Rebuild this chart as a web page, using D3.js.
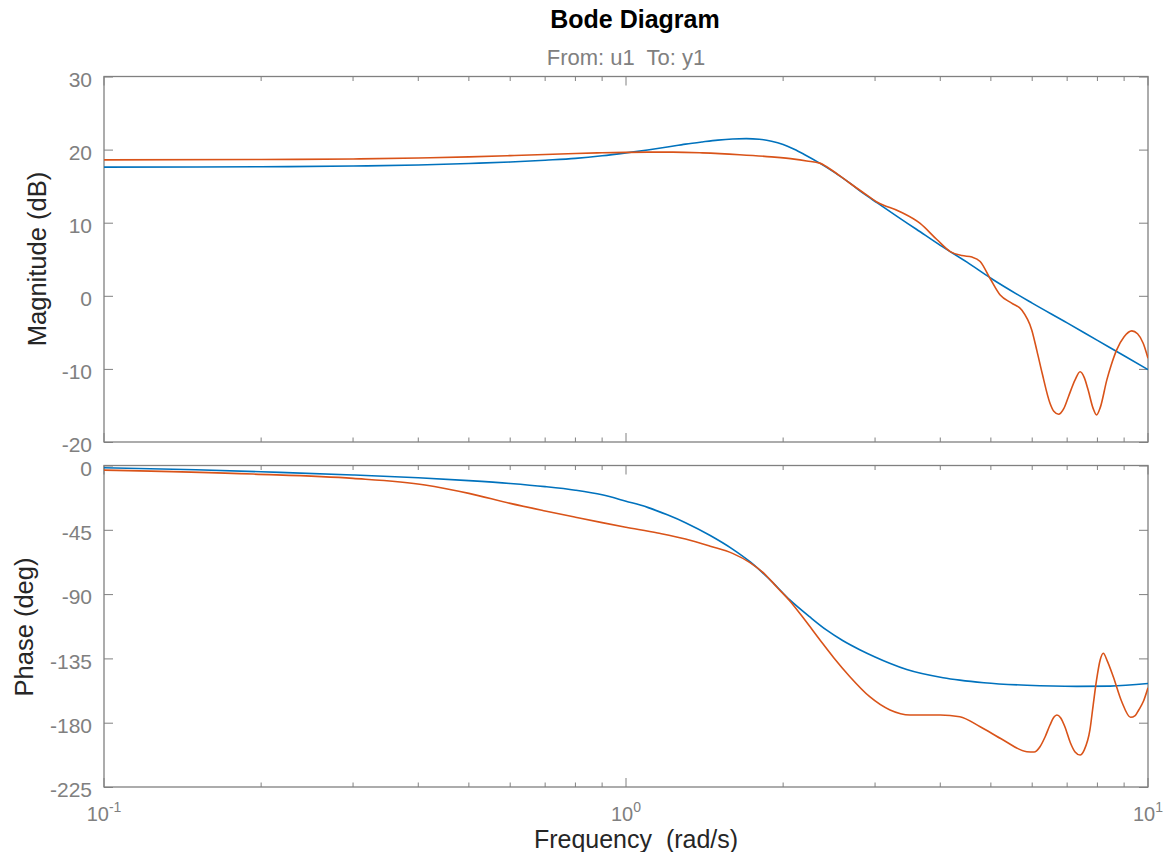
<!DOCTYPE html>
<html><head><meta charset="utf-8">
<script src="https://cdn.jsdelivr.net/npm/d3@7"></script>
<style>
body{margin:0;background:#fff;}
svg{display:block;font-family:"Liberation Sans",Arial,Helvetica,sans-serif;}
</style></head><body>
<svg id="chart" width="1168" height="852"></svg>
<script>
// ---- data ----
const blueMagFreq = [0.1,0.15,0.2,0.3,0.4,0.5,0.6,0.7,0.8,0.9,1.0,1.1,1.2,1.3,1.4,1.5,1.6,1.7,1.8,1.9,2.0,2.1,2.2,2.35,2.5,2.685,2.85,3.03,3.3,3.6,4.0,4.5,5.0,6.0,7.0,8.0,9.0,10];
const blueMag = [17.6,17.62,17.65,17.75,17.9,18.1,18.3,18.55,18.8,19.15,19.55,19.95,20.35,20.75,21.05,21.3,21.45,21.5,21.42,21.15,20.7,20.05,19.3,18.15,16.95,15.4,14.0,12.7,10.9,9.1,6.9,4.6,2.4,-1.0,-3.7,-6.1,-8.2,-10.1];

const orangeMagFreq = [0.1,0.2,0.3,0.4,0.5,0.6,0.7,0.8,0.9,1.0,1.1,1.23,1.4,1.65,1.9,2.1,2.22,2.35,2.5,2.685,2.85,3.03,3.35,3.66,3.94,4.18,4.4,4.6,4.77,4.98,5.21,5.48,5.73,5.99,6.13,6.27,6.49,6.6,6.74,6.9,7.04,7.25,7.41,7.55,7.68,7.85,7.97,8.1,8.34,8.5,8.71,9.0,9.31,9.55,9.79,10];
const orangeMag = [18.6,18.65,18.72,18.85,19.0,19.18,19.34,19.47,19.56,19.62,19.65,19.65,19.55,19.3,19.0,18.7,18.45,18.15,17.0,15.4,14.1,12.8,11.5,9.9,7.7,6.05,5.5,5.3,4.7,2.4,0.1,-1.0,-1.95,-4.7,-7.6,-10.6,-14.7,-15.8,-16.2,-15.4,-13.8,-11.5,-10.4,-11.2,-12.9,-15.4,-16.3,-15.3,-11.5,-9.5,-7.4,-5.6,-4.8,-5.2,-6.5,-8.55];

const bluePhaseFreq = [0.1,0.15,0.2,0.3,0.4,0.5,0.6,0.7,0.8,0.9,1.0,1.1,1.2,1.3,1.45,1.6,1.73,1.9,2.06,2.25,2.42,2.6,2.81,3.0,3.2,3.45,4.05,4.36,4.85,5.86,7.3,8.46,10];
const bluePhase = [-1.6,-3.0,-4.4,-6.6,-8.6,-10.6,-12.6,-14.8,-17.3,-20.5,-25.0,-29.3,-34.5,-40.0,-49.0,-58.5,-67.5,-81.0,-94.1,-106.0,-115.1,-122.5,-129.1,-134.0,-138.4,-142.8,-148.5,-150.2,-152.0,-153.8,-154.6,-154.4,-152.6];

const orangePhaseFreq = [0.1,0.193,0.3,0.412,0.5,0.6,0.7,0.8,0.9,1.0,1.15,1.3,1.45,1.6,1.728,1.85,1.944,2.062,2.2,2.353,2.5,2.685,2.93,3.205,3.5,4.0,4.36,4.77,5.28,5.86,6.05,6.21,6.35,6.49,6.6,6.69,6.8,6.93,7.1,7.25,7.41,7.55,7.74,7.85,7.97,8.1,8.21,8.35,8.58,8.9,9.26,9.45,9.6,9.8,10];
const orangePhase = [-3.2,-6.0,-9.0,-13.6,-19.5,-26.5,-31.8,-36.2,-40.0,-43.2,-47.3,-51.5,-56.5,-61.5,-68.0,-76.5,-85.0,-95.0,-108.0,-122.1,-134.5,-147.8,-161.8,-171.1,-174.6,-174.6,-175.8,-182.8,-192.1,-200.3,-200.5,-196.8,-190.0,-181.6,-176.2,-174.6,-176.5,-182.8,-194.0,-200.5,-202.6,-199.0,-185.1,-168.0,-150.1,-136.0,-131.4,-136.5,-147.8,-165.0,-176.2,-175.0,-171.1,-165.0,-155.5];

const magTicks = [-20,-10,0,10,20,30];
const phaseTicks = [-225,-180,-135,-90,-45,0];
const freqMajorTicks = [0.1,1,10];
const freqTickExponents = ["-1","0","1"];
const titleText = "Bode Diagram";
const subtitleText = "From: u1  To: y1";
const xLabelText = "Frequency  (rad/s)";
const magLabelText = "Magnitude (dB)";
const phaseLabelText = "Phase (deg)";

// ---- drawing ----
const BLUE = "#0072BD", ORANGE = "#D95319";
const AX = "#808080", TXT = "#262626";
const svg = d3.select("#chart");
svg.append("rect").attr("width",1168).attr("height",852).attr("fill","#fff");

const L = 104, R = 1148;
const x = d3.scaleLog().domain([0.1,10]).range([L,R]);
const yMag = d3.scaleLinear().domain([-20,30]).range([442,76.5]);
const yPh = d3.scaleLinear().domain([-225,0]).range([787,465.5]);

const minorTicks = [];
[0.1,1].forEach(d => { for (let k=2;k<=9;k++) minorTicks.push(+(d*k).toFixed(4)); });

const defs = svg.append("defs");
function panel(id, y, ticks){
  const [y0,y1] = [y.range()[1], y.range()[0]];
  defs.append("clipPath").attr("id",id).append("rect")
    .attr("x",L).attr("y",y0).attr("width",R-L).attr("height",y1-y0);
  const g = svg.append("g");
  const la = g.append("g").attr("transform",`translate(${L},0)`)
    .call(d3.axisLeft(y).tickValues(ticks).tickSize(-9).tickSizeOuter(0).tickPadding(12)
      .tickFormat(d => String(d)));
  la.select(".domain").remove();
  la.selectAll(".tick line").attr("stroke",AX);
  la.selectAll("text").attr("fill",AX).attr("font-size",21).attr("dy","0.46em")
    .attr("font-family",'"Liberation Sans",Arial,sans-serif');
  const ra = g.append("g").attr("transform",`translate(${R},0)`)
    .call(d3.axisRight(y).tickValues(ticks).tickSize(-9).tickSizeOuter(0).tickFormat(""));
  ra.select(".domain").remove();
  ra.selectAll(".tick line").attr("stroke",AX);
  [[y0,1],[y1,-1]].forEach(([yy,dir]) => {
    g.selectAll(null).data(freqMajorTicks.concat(minorTicks)).enter().append("line")
      .attr("x1",d=>x(d)).attr("x2",d=>x(d))
      .attr("y1",yy).attr("y2",d=> yy + dir*(freqMajorTicks.includes(d)?9:4.5))
      .attr("stroke",AX);
  });
  g.append("rect").attr("x",L).attr("y",y0).attr("width",R-L).attr("height",y1-y0)
    .attr("fill","none").attr("stroke",AX).attr("stroke-width",1.3);
  return g;
}
panel("clipMag", yMag, magTicks);
panel("clipPh", yPh, phaseTicks);

function drawLine(fr, vals, y, color, clip){
  const pts = fr.map((f,i)=>[f,vals[i]]);
  svg.append("path").datum(pts)
    .attr("clip-path",`url(#${clip})`)
    .attr("fill","none").attr("stroke",color).attr("stroke-width",1.6)
    .attr("stroke-linejoin","round")
    .attr("d", d3.line().x(d=>x(d[0])).y(d=>y(d[1])).curve(d3.curveMonotoneX));
}
drawLine(blueMagFreq, blueMag, yMag, BLUE, "clipMag");
drawLine(orangeMagFreq, orangeMag, yMag, ORANGE, "clipMag");
drawLine(bluePhaseFreq, bluePhase, yPh, BLUE, "clipPh");
drawLine(orangePhaseFreq, orangePhase, yPh, ORANGE, "clipPh");

freqMajorTicks.forEach((f,i) => {
  const t = svg.append("text").attr("x", x(f)).attr("y", 821)
    .attr("text-anchor","middle").attr("fill",AX).attr("font-size",20);
  t.append("tspan").text("10");
  t.append("tspan").attr("dy",-9).attr("font-size",14).text(freqTickExponents[i]);
});

svg.append("text").attr("x",635).attr("y",28).attr("text-anchor","middle")
  .attr("font-weight","bold").attr("font-size",25).attr("fill","#000").text(titleText);
svg.append("text").attr("x",626).attr("y",65).attr("text-anchor","middle")
  .attr("font-size",22).attr("fill",AX).style("white-space","pre").text(subtitleText);
svg.append("text").attr("x",636).attr("y",848).attr("text-anchor","middle")
  .attr("font-size",25).attr("fill",TXT).style("white-space","pre").text(xLabelText);
svg.append("text").attr("transform","translate(46,259) rotate(-90)").attr("text-anchor","middle")
  .attr("font-size",25.5).attr("fill",TXT).text(magLabelText);
svg.append("text").attr("transform","translate(33,627) rotate(-90)").attr("text-anchor","middle")
  .attr("font-size",25.5).attr("fill",TXT).text(phaseLabelText);
</script>
</body></html>
